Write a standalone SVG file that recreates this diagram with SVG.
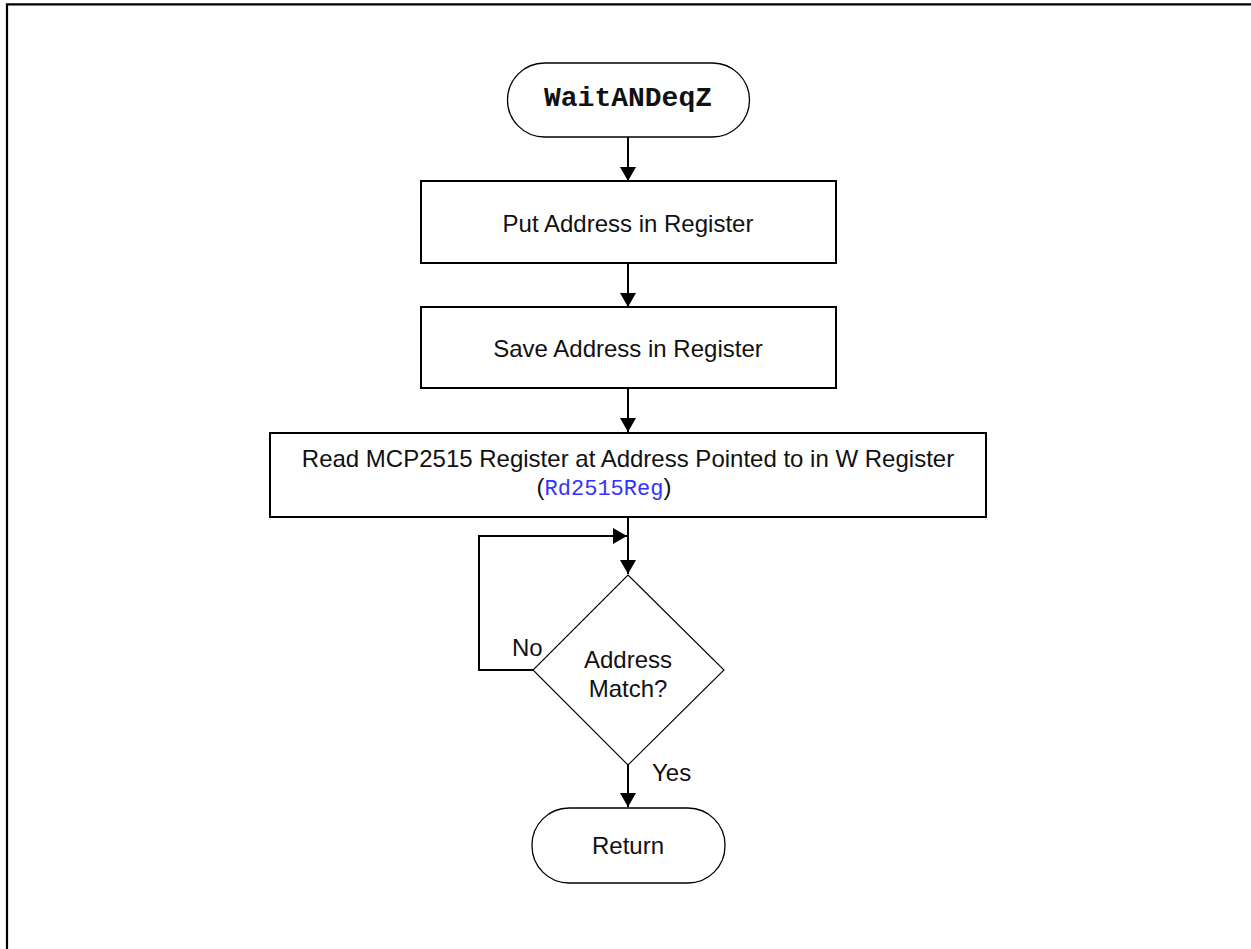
<svg xmlns="http://www.w3.org/2000/svg" width="1251" height="949" viewBox="0 0 1251 949">
  <style>
    .frame { fill: none; stroke: #000; stroke-width: 2.2; }
    .box { fill: #fff; stroke: #000; stroke-width: 2; }
    .term { fill: #fff; stroke: #000; stroke-width: 1.3; }
    .dec { fill: #fff; stroke: #000; stroke-width: 1.1; }
    .wire { fill: none; stroke: #000; stroke-width: 2; }
    .lbl { font-family: "Liberation Sans", Arial, sans-serif; font-size: 24px; fill: #111; }
    .mid { text-anchor: middle; }
    .code { font-family: "Liberation Mono", "Courier New", monospace; }
    .link { fill: #3333ff; font-size: 22px; }
    .title { font-family: "Liberation Mono", "Courier New", monospace; font-weight: bold; font-size: 28px; fill: #111; }
  </style>
  <defs>
    <marker id="arr" viewBox="0 0 14 16" refX="14" refY="8" markerWidth="14" markerHeight="16" markerUnits="userSpaceOnUse" orient="auto">
      <path d="M0,0 L14,8 L0,16 Z" fill="#000"/>
    </marker>
  </defs>

  <rect width="1251" height="949" fill="#fff"/>
  <!-- page frame -->
  <path class="frame" d="M7,949 V4.3 H1251"/>

  <!-- connectors -->
  <g id="connectors">
    <line class="wire" x1="628" y1="137" x2="628" y2="181" marker-end="url(#arr)"/>
    <line class="wire" x1="628" y1="263" x2="628" y2="307" marker-end="url(#arr)"/>
    <line class="wire" x1="628" y1="388" x2="628" y2="432" marker-end="url(#arr)"/>
    <line class="wire" x1="628" y1="517" x2="628" y2="574" marker-end="url(#arr)"/>
    <path class="wire" d="M533,670 H479 V536 H627" marker-end="url(#arr)"/>
    <line class="wire" x1="628" y1="765" x2="628" y2="807" marker-end="url(#arr)"/>
    <text class="lbl" x="512" y="656">No</text>
    <text class="lbl" x="652" y="781">Yes</text>
  </g>

  <g id="start">
    <rect class="term" x="507.5" y="63" width="242" height="74" rx="37" ry="37"/>
    <text class="title mid" x="628" y="106">WaitANDeqZ</text>
  </g>

  <g id="put-address">
    <rect class="box" x="421" y="181" width="415" height="82"/>
    <text class="lbl mid" x="628" y="232">Put Address in Register</text>
  </g>

  <g id="save-address">
    <rect class="box" x="421" y="307" width="415" height="81"/>
    <text class="lbl mid" x="628" y="357">Save Address in Register</text>
  </g>

  <g id="read-register">
    <rect class="box" x="270" y="433" width="716" height="84"/>
    <text class="lbl mid" x="628" y="467">Read MCP2515 Register at Address Pointed to in W Register</text>
    <text class="lbl mid" x="604" y="495">(<tspan class="code link">Rd2515Reg</tspan>)</text>
  </g>

  <g id="address-match">
    <polygon class="dec" points="628,575 724,670 628,765 533,670"/>
    <text class="lbl mid" x="628" y="668">Address</text>
    <text class="lbl mid" x="628" y="697">Match?</text>
  </g>

  <g id="return">
    <rect class="term" x="532" y="808" width="193" height="75" rx="37" ry="37"/>
    <text class="lbl mid" x="628" y="854">Return</text>
  </g>
</svg>
